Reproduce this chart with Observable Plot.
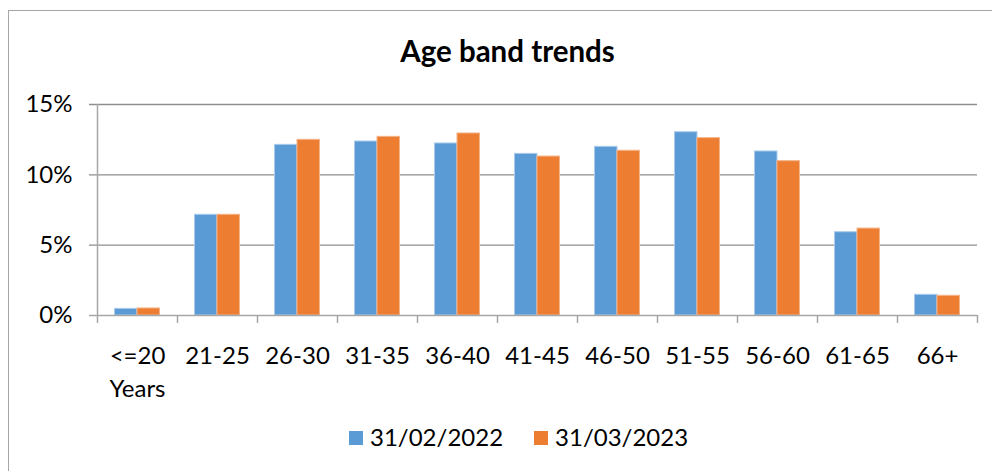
<!DOCTYPE html>
<html>
<head>
<meta charset="utf-8">
<script src="https://cdn.jsdelivr.net/npm/d3@7"></script>
<script src="https://cdn.jsdelivr.net/npm/@observablehq/plot@0.6"></script>
<style>
  html, body { margin: 0; padding: 0; background: #fff; }
  #chart {
    position: relative; width: 992px; height: 471px; overflow: hidden;
    font-family: Lato, "Open Sans", sans-serif; color: #000;
  }
  #border {
    position: absolute; left: 8px; top: 10px; width: 1100px; height: 600px;
    border: 1.5px solid #a6a6a6; box-sizing: border-box;
  }
  #title {
    position: absolute; left: 0; top: 36px; width: 1015px; text-align: center;
    font-size: 29.5px; line-height: 29.5px; font-weight: bold;
  }
  #plot { position: absolute; left: 0; top: 0; }
  #legend {
    position: absolute; left: 349px; top: 425px; display: flex; align-items: center;
    font-size: 24px; line-height: 24px;
  }
  #legend .item { display: flex; align-items: center; }
  #legend .item + .item { margin-left: 31px; }
  #legend .swatch { width: 14px; height: 14px; margin-right: 7px; margin-top: 1px; }
</style>
</head>
<body>
<div id="chart">
  <div id="border"></div>
  <div id="title">Age band trends</div>
  <div id="plot"></div>
  <div id="legend"></div>
</div>
<script>
// Age bands and the share of staff in each band (percent) at the two dates
const categories = ["<=20 Years", "21-25", "26-30", "31-35", "36-40", "41-45", "46-50", "51-55", "56-60", "61-65", "66+"];
const seriesNames = ["31/02/2022", "31/03/2023"];
const values2022 = [0.47, 7.16, 12.13, 12.37, 12.23, 11.49, 11.99, 13.03, 11.66, 5.92, 1.47];
const values2023 = [0.50, 7.16, 12.49, 12.70, 12.94, 11.30, 11.71, 12.61, 10.97, 6.18, 1.40];
const yTicks = [0, 5, 10, 15];
const colors = ["#5B9BD5", "#ED7D31"];
const edgeColors = ["#a9cbec", "#f5b48a"];

const rows2022 = categories.map((band, i) => ({band, value: values2022[i]}));
const rows2023 = categories.map((band, i) => ({band, value: values2023[i]}));
const last = categories[categories.length - 1];

const plot = Plot.plot({
  width: 992,
  height: 471,
  marginLeft: 97,
  marginRight: 15,
  marginTop: 104,
  marginBottom: 156,
  style: {fontFamily: "Lato, 'Open Sans', sans-serif", fontSize: "24px", color: "#000", background: "transparent"},
  x: {domain: categories, padding: 0, axis: null, label: null},
  y: {domain: [0, 15], axis: null, label: null},
  marks: [
    // horizontal gridlines, running a little past the value axis like tick marks
    Plot.gridY({ticks: yTicks.slice(1), stroke: "#8e8e8e", strokeOpacity: 1, strokeWidth: 1.3, insetLeft: -8}),
    // bars for each date, side by side inside the age band
    Plot.barY(rows2022, {x: "band", y: "value", fill: colors[0], stroke: edgeColors[0], strokeWidth: 1, insetLeft: 17.5, insetRight: 40}),
    Plot.barY(rows2023, {x: "band", y: "value", fill: colors[1], stroke: edgeColors[1], strokeWidth: 1, insetLeft: 40, insetRight: 17.5}),
    // baseline and value axis line
    Plot.ruleY([0], {stroke: "#a6a6a6", strokeWidth: 1.5, insetLeft: -8}),
    Plot.ruleX([categories[0]], {x: d => d, y1: 15, y2: 0, dx: -40, stroke: "#a6a6a6", strokeWidth: 1.5, insetBottom: -8}),
    // tick marks between the age bands
    Plot.ruleX(categories.slice(1), {x: d => d, y1: 0, y2: 0, dx: -40, stroke: "#a6a6a6", strokeWidth: 1.5, insetBottom: -8}),
    Plot.ruleX([last], {x: d => d, y1: 0, y2: 0, dx: 40, stroke: "#a6a6a6", strokeWidth: 1.5, insetBottom: -8}),
    Plot.axisY({ticks: yTicks, tickFormat: d => d + "%", tickSize: 0, tickPadding: 25, fill: "#000", label: null}),
    Plot.axisX({tickSize: 0, tickPadding: 25, tickFormat: d => d.replace(" ", "\n"), lineHeight: 1.375, fill: "#000", label: null})
  ]
});
document.getElementById("plot").append(plot);

const legend = document.getElementById("legend");
seriesNames.forEach((name, i) => {
  const item = document.createElement("div");
  item.className = "item";
  const sw = document.createElement("div");
  sw.className = "swatch";
  sw.style.background = colors[i];
  const label = document.createElement("span");
  label.textContent = name;
  item.append(sw, label);
  legend.append(item);
});
</script>
</body>
</html>
